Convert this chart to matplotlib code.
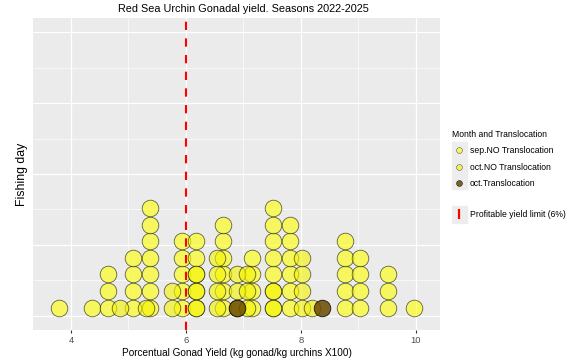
import matplotlib
matplotlib.use("Agg")
import matplotlib.pyplot as plt
import numpy as np
from matplotlib.lines import Line2D
from matplotlib.patches import Rectangle

# gonad yield (%) of each fishing day, one value per dot
sep_no_tr = [3.80, 4.36, 4.64, 4.64, 4.64,
             5.08, 5.08, 5.08, 5.08,
             5.38, 5.38, 5.38, 5.38, 5.38, 5.38, 5.38,
             5.93, 5.93, 5.93, 5.93, 5.93,
             6.18, 6.18, 6.18, 6.18, 6.18,
             6.65, 6.65, 6.65, 6.65, 6.65, 6.65,
             7.15, 7.15, 7.15, 7.15,
             7.52, 7.52, 7.52, 7.52, 7.52, 7.52, 7.52,
             7.81, 7.81, 7.81, 7.81, 7.81, 7.81,
             8.77, 8.77, 8.77, 8.77, 8.77,
             9.03, 9.03, 9.03, 9.03,
             9.52, 9.52, 9.52, 9.96]
oct_no_tr = [4.85, 5.31, 5.75, 5.75,
             6.18, 6.18, 6.18,
             6.54, 6.54, 6.54, 6.54,
             6.89, 6.89, 6.89,
             7.06, 7.06, 7.06,
             7.52, 7.52,
             8.02, 8.02, 8.02, 8.02, 8.19]
oct_tr = [6.89, 8.36]

groups = ["sep.NO Translocation", "oct.NO Translocation", "oct.Translocation"]
values = [sep_no_tr, oct_no_tr, oct_tr]
fills = ["#FFFF00", "#F5F500", "#6B4A00"]
alphas = [0.6, 0.6, 0.85]
limit = 6

plt.rcParams["font.family"] = ["Liberation Sans", "DejaVu Sans"]

W, H = 568, 362
fig = plt.figure(figsize=(W / 100, H / 100), dpi=100)
ax = fig.add_axes([33 / W, 1 - 330 / H, (440 - 33) / W, (330 - 18) / H])
ax.set_facecolor("#EBEBEB")
for s in ax.spines.values():
    s.set_visible(False)

ax.set_xlim(3.34, 10.42)
ax.set_ylim(-0.05, 1.05)
ax.set_xticks([4, 6, 8, 10])
ax.set_xticks([5, 7, 9], minor=True)
ax.set_yticks(np.arange(0, 1.01, 0.25))
ax.set_yticks(np.arange(0.125, 1, 0.25), minor=True)
ax.grid(which="major", color="white", lw=0.9)
ax.grid(which="minor", color="white", lw=0.45)
ax.set_axisbelow(True)
ax.tick_params(axis="x", which="major", length=2.5, color="#333333",
               labelsize=6.8, labelcolor="#4D4D4D", pad=2)
ax.tick_params(axis="x", which="minor", length=0)
ax.tick_params(axis="y", which="both", length=0, labelleft=False)

# dot diameter in pixels -> stacking step in y data units
d_px = 16.6
dy = d_px * 1.1 / (330 - 18)
msize = (d_px * 0.72) ** 2

for vals, fc, a in zip(values, fills, alphas):
    xs, counts = np.unique(vals, return_counts=True)
    for x, c in zip(xs, counts):
        ys = (np.arange(c) + 0.5) * dy
        ax.scatter(np.full(c, x), ys, s=msize, color=fc, edgecolors="black",
                   linewidths=0.6, alpha=a, zorder=3)

ax.axvline(limit, color="red", lw=1.5, ls=(0, (4, 4)), zorder=5)

ax.set_title("Red Sea Urchin Gonadal yield. Seasons 2022-2025",
             fontsize=7.8, color="black", pad=4, x=0.517)
ax.set_xlabel("Porcentual Gonad Yield (kg gonad/kg urchins X100)",
              fontsize=7.2, labelpad=2)
ax.set_ylabel("Fishing day", fontsize=8.8, labelpad=3.5)

# legend key backgrounds
fig.patches.append(Rectangle((452 / W, 1 - 189 / H), 15 / W, 47 / H,
                             transform=fig.transFigure, color="#EDEDED", zorder=0))
fig.patches.append(Rectangle((452 / W, 1 - 223 / H), 15 / W, 17 / H,
                             transform=fig.transFigure, color="#EDEDED", zorder=0))

handles = [Line2D([], [], ls="none", marker="o", markersize=4.2,
                  markerfacecolor=fc, markeredgecolor="black",
                  markeredgewidth=0.4, alpha=a)
           for fc, a in zip(fills, alphas)]
fig.legend(handles, groups, loc="upper left",
           bbox_to_anchor=(452 / W, 1 - 130 / H), frameon=False,
           title="Month and Translocation", fontsize=6.2,
           title_fontsize=6.2, labelspacing=0.85, handlelength=1.6,
           handletextpad=0.5, alignment="left", borderaxespad=0,
           borderpad=0)
h2 = Line2D([], [], ls="none", marker="|", markersize=7, color="red",
            markeredgewidth=1.6)
fig.legend([h2], ["Profitable yield limit (6%)"], loc="upper left",
           bbox_to_anchor=(452 / W, 1 - 210 / H), frameon=False,
           fontsize=6.2, handlelength=1.6, handletextpad=0.5,
           borderaxespad=0, borderpad=0)

fig.savefig("out.png", dpi=100)
